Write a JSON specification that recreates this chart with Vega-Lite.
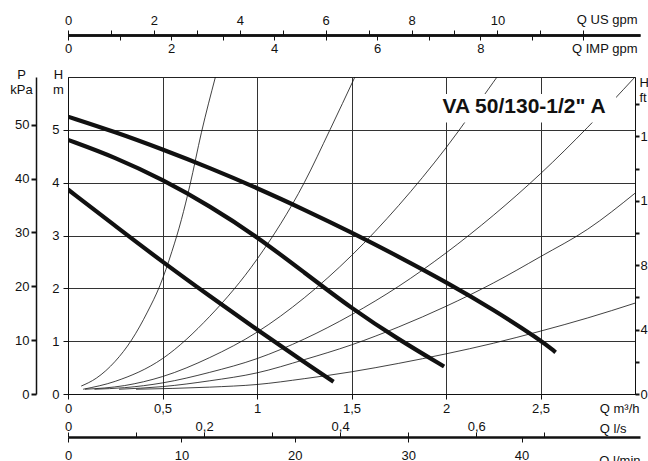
{
  "$schema": "https://vega.github.io/schema/vega-lite/v6.json",
  "width": 567,
  "height": 317,
  "autosize": "none",
  "padding": {"left": 68, "top": 77, "right": 13, "bottom": 67},
  "background": "white",
  "config": {
    "view": {"stroke": "#222", "strokeWidth": 1},
    "font": "Liberation Sans",
    "axis": {
      "labelFont": "Liberation Sans", "labelFontSize": 13, "labelColor": "#111",
      "titleFont": "Liberation Sans", "titleFontSize": 13, "titleFontWeight": "normal", "titleColor": "#111",
      "domainColor": "#111", "tickColor": "#111", "labelFlush": false, "labelOverlap": false, "grid": false
    }
  },
  "datasets": {
    "ax": [{"v": 0}],
    "curves": [
      {"c": "P3", "k": "pump", "q": 0, "h": 5.25}, {"c": "P3", "k": "pump", "q": 0.25, "h": 4.96}, {"c": "P3", "k": "pump", "q": 0.5, "h": 4.63}, {"c": "P3", "k": "pump", "q": 0.75, "h": 4.28}, {"c": "P3", "k": "pump", "q": 1.0, "h": 3.9}, {"c": "P3", "k": "pump", "q": 1.25, "h": 3.49}, {"c": "P3", "k": "pump", "q": 1.5, "h": 3.06}, {"c": "P3", "k": "pump", "q": 1.75, "h": 2.6}, {"c": "P3", "k": "pump", "q": 2.0, "h": 2.12}, {"c": "P3", "k": "pump", "q": 2.25, "h": 1.6}, {"c": "P3", "k": "pump", "q": 2.5, "h": 1.02}, {"c": "P3", "k": "pump", "q": 2.58, "h": 0.79},
      {"c": "P2", "k": "pump", "q": 0, "h": 4.81}, {"c": "P2", "k": "pump", "q": 0.25, "h": 4.48}, {"c": "P2", "k": "pump", "q": 0.5, "h": 4.06}, {"c": "P2", "k": "pump", "q": 0.75, "h": 3.56}, {"c": "P2", "k": "pump", "q": 1.0, "h": 2.98}, {"c": "P2", "k": "pump", "q": 1.25, "h": 2.3}, {"c": "P2", "k": "pump", "q": 1.5, "h": 1.62}, {"c": "P2", "k": "pump", "q": 1.75, "h": 1.03}, {"c": "P2", "k": "pump", "q": 1.99, "h": 0.52},
      {"c": "P1", "k": "pump", "q": 0, "h": 3.87}, {"c": "P1", "k": "pump", "q": 0.25, "h": 3.18}, {"c": "P1", "k": "pump", "q": 0.5, "h": 2.5}, {"c": "P1", "k": "pump", "q": 0.75, "h": 1.85}, {"c": "P1", "k": "pump", "q": 1.0, "h": 1.22}, {"c": "P1", "k": "pump", "q": 1.25, "h": 0.6}, {"c": "P1", "k": "pump", "q": 1.405, "h": 0.23},
      {"c": "A", "k": "system", "q": 0.07, "h": 0.15}, {"c": "A", "k": "system", "q": 0.15, "h": 0.3}, {"c": "A", "k": "system", "q": 0.25, "h": 0.62}, {"c": "A", "k": "system", "q": 0.336, "h": 1.02}, {"c": "A", "k": "system", "q": 0.42, "h": 1.55}, {"c": "A", "k": "system", "q": 0.486, "h": 2.05}, {"c": "A", "k": "system", "q": 0.55, "h": 2.7}, {"c": "A", "k": "system", "q": 0.6, "h": 3.3}, {"c": "A", "k": "system", "q": 0.645, "h": 3.95}, {"c": "A", "k": "system", "q": 0.706, "h": 4.95}, {"c": "A", "k": "system", "q": 0.78, "h": 6.0},
      {"c": "B", "k": "system", "q": 0.08, "h": 0.09}, {"c": "B", "k": "system", "q": 0.25, "h": 0.24}, {"c": "B", "k": "system", "q": 0.5, "h": 0.67}, {"c": "B", "k": "system", "q": 0.75, "h": 1.47}, {"c": "B", "k": "system", "q": 1.0, "h": 2.55}, {"c": "B", "k": "system", "q": 1.25, "h": 4.0}, {"c": "B", "k": "system", "q": 1.386, "h": 5.0}, {"c": "B", "k": "system", "q": 1.518, "h": 6.0},
      {"c": "C", "k": "system", "q": 0.09, "h": 0.09}, {"c": "C", "k": "system", "q": 0.3, "h": 0.16}, {"c": "C", "k": "system", "q": 0.5, "h": 0.33}, {"c": "C", "k": "system", "q": 0.75, "h": 0.69}, {"c": "C", "k": "system", "q": 1.0, "h": 1.17}, {"c": "C", "k": "system", "q": 1.25, "h": 1.82}, {"c": "C", "k": "system", "q": 1.5, "h": 2.62}, {"c": "C", "k": "system", "q": 1.75, "h": 3.57}, {"c": "C", "k": "system", "q": 2.0, "h": 4.66}, {"c": "C", "k": "system", "q": 2.25, "h": 5.9}, {"c": "C", "k": "system", "q": 2.27, "h": 6.0},
      {"c": "D", "k": "system", "q": 0.14, "h": 0.09}, {"c": "D", "k": "system", "q": 0.3, "h": 0.12}, {"c": "D", "k": "system", "q": 0.5, "h": 0.21}, {"c": "D", "k": "system", "q": 0.75, "h": 0.41}, {"c": "D", "k": "system", "q": 1.0, "h": 0.67}, {"c": "D", "k": "system", "q": 1.25, "h": 1.04}, {"c": "D", "k": "system", "q": 1.5, "h": 1.5}, {"c": "D", "k": "system", "q": 1.75, "h": 2.04}, {"c": "D", "k": "system", "q": 2.0, "h": 2.67}, {"c": "D", "k": "system", "q": 2.25, "h": 3.38}, {"c": "D", "k": "system", "q": 2.5, "h": 4.17}, {"c": "D", "k": "system", "q": 2.75, "h": 5.05}, {"c": "D", "k": "system", "q": 3.0, "h": 6.0},
      {"c": "E", "k": "system", "q": 0.27, "h": 0.09}, {"c": "E", "k": "system", "q": 0.5, "h": 0.14}, {"c": "E", "k": "system", "q": 0.75, "h": 0.25}, {"c": "E", "k": "system", "q": 1.0, "h": 0.4}, {"c": "E", "k": "system", "q": 1.25, "h": 0.65}, {"c": "E", "k": "system", "q": 1.5, "h": 0.93}, {"c": "E", "k": "system", "q": 1.75, "h": 1.27}, {"c": "E", "k": "system", "q": 2.0, "h": 1.66}, {"c": "E", "k": "system", "q": 2.25, "h": 2.1}, {"c": "E", "k": "system", "q": 2.5, "h": 2.6}, {"c": "E", "k": "system", "q": 2.75, "h": 3.12}, {"c": "E", "k": "system", "q": 3.0, "h": 3.8},
      {"c": "F", "k": "system", "q": 0.36, "h": 0.09}, {"c": "F", "k": "system", "q": 0.75, "h": 0.13}, {"c": "F", "k": "system", "q": 1.0, "h": 0.18}, {"c": "F", "k": "system", "q": 1.25, "h": 0.29}, {"c": "F", "k": "system", "q": 1.5, "h": 0.42}, {"c": "F", "k": "system", "q": 1.75, "h": 0.58}, {"c": "F", "k": "system", "q": 2.0, "h": 0.76}, {"c": "F", "k": "system", "q": 2.25, "h": 0.96}, {"c": "F", "k": "system", "q": 2.5, "h": 1.19}, {"c": "F", "k": "system", "q": 2.75, "h": 1.44}, {"c": "F", "k": "system", "q": 3.0, "h": 1.72}
    ]
  },
  "layer": [
    {
      "layer": [
        {
          "data": {"name": "curves"},
          "transform": [{"filter": "datum.k === 'system'"}],
          "mark": {"type": "line", "stroke": "#111", "strokeWidth": 0.8, "interpolate": "monotone", "clip": true},
          "encoding": {
            "x": {"field": "q", "type": "quantitative",
              "scale": {"domain": [0, 3], "nice": false, "zero": false},
              "axis": {"values": [0, 0.5, 1, 1.5, 2, 2.5], "format": "~g", "labelExpr": "replace(datum.label, '.', ',')",
                "grid": true, "gridColor": "#333", "gridWidth": 1, "tickSize": 5, "labelPadding": 3, "domain": true,
                "title": "Q m³/h", "titleAngle": 0, "titleAlign": "right", "titleBaseline": "middle", "titleX": 571, "titleY": 14}},
            "y": {"field": "h", "type": "quantitative",
              "scale": {"domain": [0, 6], "nice": false, "zero": false},
              "axis": {"values": [0, 1, 2, 3, 4, 5], "grid": true, "gridColor": "#333", "gridWidth": 1, "tickSize": 5, "labelPadding": 4,
                "title": ["H", "m"], "titleAngle": 0, "titleAlign": "center", "titleBaseline": "top", "titleLineHeight": 15, "titleX": -10, "titleY": -9}},
            "detail": {"field": "c"}
          }
        },
        {
          "data": {"name": "curves"},
          "transform": [{"filter": "datum.k === 'pump'"}],
          "mark": {"type": "line", "stroke": "#111", "strokeWidth": 4.2, "strokeCap": "butt", "interpolate": "basis", "clip": true},
          "encoding": {
            "x": {"field": "q", "type": "quantitative"},
            "y": {"field": "h", "type": "quantitative"},
            "detail": {"field": "c"}
          }
        },
        {
          "data": {"values": [{}]},
          "mark": {"type": "rect", "fill": "white"},
          "encoding": {"x": {"datum": 1.95}, "x2": {"datum": 2.9}, "y": {"datum": 5.14}, "y2": {"datum": 5.68}}
        },
        {
          "data": {"values": [{}]},
          "mark": {"type": "text", "text": "VA 50/130-1/2\" A", "font": "Liberation Sans", "fontSize": 21, "fontWeight": "bold", "align": "center", "baseline": "middle", "color": "#111"},
          "encoding": {"x": {"datum": 2.413}, "y": {"datum": 5.43}}
        }
      ]
    },
    {
      "data": {"name": "ax"},
      "mark": {"type": "point", "opacity": 0},
      "encoding": {
        "x": {"field": "v", "type": "quantitative",
          "scale": {"domain": [0, 13.32], "range": [0, 572], "nice": false, "zero": false},
          "axis": {"orient": "top", "offset": 42, "values": [0,1,2,3,4,5,6,7,8,9,10,11,12],
            "labelExpr": "(datum.value % 2 === 0 && datum.value <= 10) ? datum.label : ''",
            "tickSize": 5, "tickWidth": 1, "domainWidth": 2.5, "labelPadding": 3,
            "title": "Q US gpm", "titleAngle": 0, "titleAlign": "right", "titleBaseline": "middle", "titleX": 569, "titleY": -16}}
      }
    },
    {
      "data": {"name": "ax"},
      "mark": {"type": "point", "opacity": 0},
      "encoding": {
        "x": {"field": "v", "type": "quantitative",
          "scale": {"domain": [0, 11.1], "range": [0, 572], "nice": false, "zero": false},
          "axis": {"orient": "bottom", "offset": -359, "values": [0,1,2,3,4,5,6,7,8,9,10],
            "labelExpr": "(datum.value % 2 === 0 && datum.value <= 8) ? datum.label : ''",
            "tickSize": 5, "tickWidth": 1, "domainWidth": 2.5, "labelPadding": 2,
            "title": "Q IMP gpm", "titleAngle": 0, "titleAlign": "right", "titleBaseline": "middle", "titleX": 569, "titleY": 13}}
      }
    },
    {
      "data": {"name": "ax"},
      "mark": {"type": "point", "opacity": 0},
      "encoding": {
        "x": {"field": "v", "type": "quantitative",
          "scale": {"domain": [0, 0.8407], "range": [0, 572], "nice": false, "zero": false},
          "axis": {"orient": "top", "offset": -360, "values": [0, 0.1, 0.2, 0.3, 0.4, 0.5, 0.6, 0.7],
            "labelExpr": "(round(datum.value * 10) % 2 === 0) ? replace(format(datum.value, '~g'), '.', ',') : ''",
            "tickSize": 5, "tickWidth": 1, "domainWidth": 2.5, "labelPadding": -1,
            "title": "Q l/s", "titleAngle": 0, "titleAlign": "right", "titleBaseline": "middle", "titleX": 558, "titleY": -9}}
      }
    },
    {
      "data": {"name": "ax"},
      "mark": {"type": "point", "opacity": 0},
      "encoding": {
        "x": {"field": "v", "type": "quantitative",
          "scale": {"domain": [0, 50.44], "range": [0, 572], "nice": false, "zero": false},
          "axis": {"orient": "bottom", "offset": 43, "values": [0, 10, 20, 30, 40],
            "tickSize": 5, "tickWidth": 1, "domain": false, "labelPadding": 7,
            "title": "Q l/min", "titleAngle": 0, "titleAlign": "right", "titleBaseline": "middle", "titleX": 572, "titleY": 23}}
      }
    },
    {
      "data": {"name": "ax"},
      "mark": {"type": "point", "opacity": 0},
      "encoding": {
        "y": {"field": "v", "type": "quantitative",
          "scale": {"domain": [0, 58.84], "nice": false, "zero": false},
          "axis": {"orient": "left", "offset": 32, "values": [0, 10, 20, 30, 40, 50],
            "tickSize": 5, "tickWidth": 2, "domainWidth": 1.5, "labelPadding": 2,
            "title": ["P", "kPa"], "titleAngle": 0, "titleAlign": "center", "titleBaseline": "top", "titleLineHeight": 15, "titleX": -15, "titleY": -9}}
      }
    },
    {
      "data": {"name": "ax"},
      "mark": {"type": "point", "opacity": 0},
      "encoding": {
        "y": {"field": "v", "type": "quantitative",
          "scale": {"domain": [0, 19.685], "nice": false, "zero": false},
          "axis": {"orient": "right", "offset": 0, "values": [0, 2, 4, 6, 8, 10, 12, 14, 16, 18],
            "labelExpr": "(datum.value % 4 === 0) ? datum.label : ''",
            "tickSize": 4, "tickWidth": 2, "domainWidth": 1, "labelPadding": 1,
            "title": ["H", "ft"], "titleAngle": 0, "titleAlign": "left", "titleBaseline": "top", "titleLineHeight": 15, "titleX": 4, "titleY": -1}}
      }
    }
  ],
  "resolve": {"scale": {"x": "independent", "y": "independent"}}
}
